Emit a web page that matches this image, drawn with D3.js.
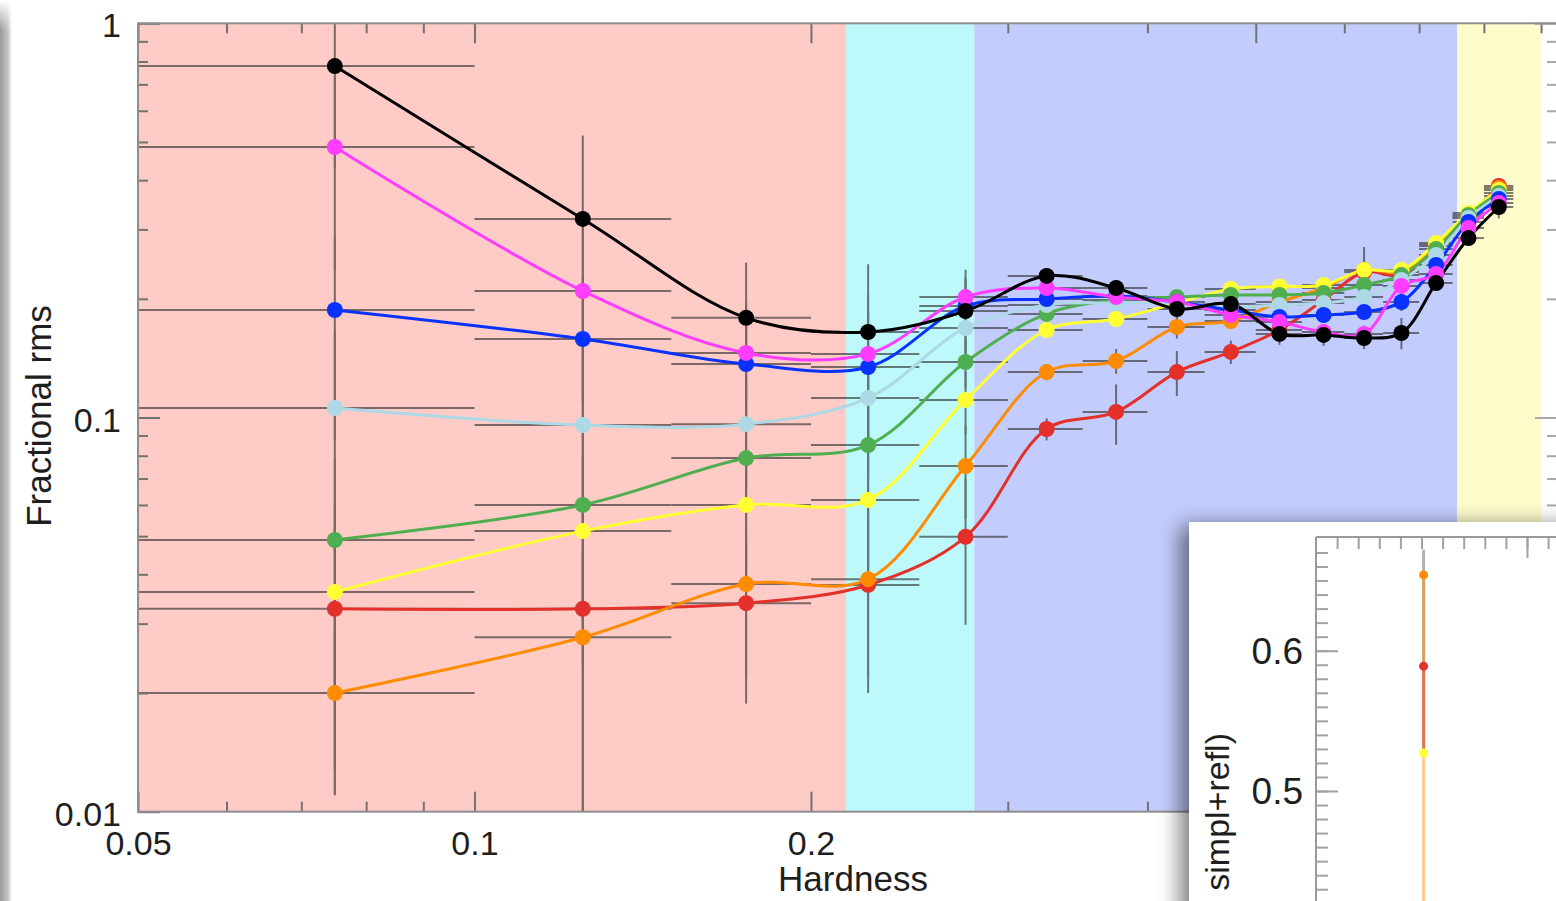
<!DOCTYPE html>
<html lang="en">
<head>
<meta charset="UTF-8">
<title>Fractional rms vs Hardness</title>
<script src="https://d3js.org/d3.v7.min.js"></script>
<style>
    body { margin: 0; background: #fff; }
    svg { display: block; font-family: "Liberation Sans", Arial, Helvetica, sans-serif; }
</style>
</head>
<body>
<div id="chart"></div>
<script>
const width = 1556, height = 901;

// hardness bins: centre and edges
const hardness = [0.075, 0.125, 0.175, 0.225, 0.275, 0.325, 0.375, 0.425, 0.475, 0.525, 0.575, 0.625, 0.675, 0.725, 0.775, 0.825];
const binLo    = [0.05, 0.10, 0.15, 0.20, 0.25, 0.30, 0.35, 0.40, 0.45, 0.50, 0.55, 0.60, 0.65, 0.70, 0.75, 0.80];
const binHi    = [0.10, 0.15, 0.20, 0.25, 0.30, 0.35, 0.40, 0.45, 0.50, 0.55, 0.60, 0.65, 0.70, 0.75, 0.80, 0.85];

// fractional rms per energy band
const rmsRed       = [0.0327, 0.0327, 0.0338, 0.0376, 0.0498, 0.0935, 0.1033, 0.1304, 0.1467, 0.1667, 0.1986, 0.2338, 0.2298, 0.2723, 0.3226, 0.3867];
const rmsOrange    = [0.0200, 0.0277, 0.0378, 0.0389, 0.0753, 0.1304, 0.1391, 0.1697, 0.1757, 0.1963, 0.2131, 0.2366, 0.2338, 0.2740, 0.3245, 0.3822];
const rmsYellow    = [0.0361, 0.0515, 0.0600, 0.0618, 0.1108, 0.1667, 0.1778, 0.1952, 0.2118, 0.2150, 0.2169, 0.2366, 0.2366, 0.2771, 0.3303, 0.3777];
const rmsGreen     = [0.0489, 0.0600, 0.0789, 0.0851, 0.1383, 0.1831, 0.1986, 0.2021, 0.2045, 0.2045, 0.2069, 0.2169, 0.2298, 0.2676, 0.3264, 0.3711];
const rmsLightblue = [0.1057, 0.0957, 0.0962, 0.1121, 0.1687, 0.1929, 0.1952, 0.1952, 0.1907, 0.1929, 0.1952, 0.2021, 0.2233, 0.2584, 0.3207, 0.3646];
const rmsBlue      = [0.1874, 0.1582, 0.1367, 0.1343, 0.1918, 0.1998, 0.2033, 0.1963, 0.1874, 0.1799, 0.1820, 0.1852, 0.1963, 0.2437, 0.3133, 0.3583];
const rmsMagenta   = [0.4856, 0.2094, 0.1458, 0.1450, 0.2021, 0.2131, 0.2021, 0.1963, 0.1820, 0.1747, 0.1648, 0.1629, 0.2157, 0.2312, 0.3025, 0.3500];
const rmsBlack     = [0.7790, 0.3190, 0.1790, 0.1648, 0.1863, 0.2286, 0.2131, 0.1885, 0.1940, 0.1629, 0.1620, 0.1591, 0.1638, 0.2194, 0.2852, 0.3420];

// 1-sigma errors
const errRed       = [0.020, 0.025, 0.015, 0.0176, 0.020, 0.006, 0.018, 0.017, 0.010, 0.010, 0.010, 0.010, 0.010, 0.010, 0.015, 0.015];
const errOrange    = [0.009, 0.018, 0.016, 0.017, 0.020, 0.006, 0.010, 0.011, 0.008, 0.008, 0.008, 0.010, 0.010, 0.010, 0.015, 0.015];
const errYellow    = [0.025, 0.028, 0.020, 0.022, 0.020, 0.007, 0.007, 0.007, 0.007, 0.007, 0.007, 0.034, 0.010, 0.010, 0.015, 0.015];
const errGreen     = [0.030, 0.030, 0.025, 0.030, 0.020, 0.007, 0.007, 0.007, 0.007, 0.007, 0.007, 0.008, 0.010, 0.010, 0.015, 0.015];
const errLightblue = [0.060, 0.045, 0.030, 0.040, 0.025, 0.008, 0.008, 0.008, 0.008, 0.008, 0.008, 0.008, 0.010, 0.010, 0.015, 0.015];
const errBlue      = [0.100, 0.070, 0.040, 0.050, 0.030, 0.008, 0.008, 0.008, 0.008, 0.008, 0.008, 0.008, 0.010, 0.010, 0.015, 0.015];
const errMagenta   = [0.250, 0.100, 0.050, 0.060, 0.035, 0.008, 0.008, 0.008, 0.008, 0.008, 0.008, 0.008, 0.010, 0.010, 0.015, 0.015];
const errBlack     = [0.350, 0.200, 0.068, 0.080, 0.040, 0.010, 0.010, 0.010, 0.010, 0.010, 0.010, 0.010, 0.015, 0.009, 0.009, 0.022];

// spectral states shaded in the background
const stateEdges  = [0.05, 0.215, 0.28, 0.757, 0.9];
const stateColors = ['#fecbc7', '#bdf9fb', '#c3cdfd', '#fefccb'];

// axis ticks
const xMajor = [0.05, 0.1, 0.2, 0.5];
const xMinor = [0.06, 0.07, 0.08, 0.09, 0.3, 0.4, 0.6, 0.7, 0.8, 0.9];
const yMajor = [0.01, 0.1, 1];
const yMinor = [0.02, 0.03, 0.04, 0.05, 0.06, 0.07, 0.08, 0.09, 0.2, 0.3, 0.4, 0.5, 0.6, 0.7, 0.8, 0.9];

// inset (partly visible panel)
const insetHard   = [0.051];
const insetOrange = [0.654];
const insetRed    = [0.589];
const insetYellow = [0.527];
const insetErrOrange = [0.018];
const insetYMajor = [0.5, 0.6];

const series = [
    { color: '#e4302a', values: rmsRed, err: errRed },
    { color: '#ff8c00', values: rmsOrange, err: errOrange },
    { color: '#ffff33', values: rmsYellow, err: errYellow },
    { color: '#4fae4f', values: rmsGreen, err: errGreen },
    { color: '#add8e6', values: rmsLightblue, err: errLightblue },
    { color: '#0a32ff', values: rmsBlue, err: errBlue },
    { color: '#ff3cff', values: rmsMagenta, err: errMagenta },
    { color: '#000000', values: rmsBlack, err: errBlack }
];

const x = d3.scaleLog().domain([0.05, 0.93]).range([138, 1557]);
const y = d3.scaleLog().domain([0.01, 1]).range([811.7, 23.3]);

const svg = d3.select('#chart').append('svg')
    .attr('width', width)
    .attr('height', height);

const defs = svg.append('defs');
defs.append('clipPath').attr('id', 'plotClip')
    .append('rect')
    .attr('x', x.range()[0]).attr('y', y.range()[1])
    .attr('width', x.range()[1] - x.range()[0])
    .attr('height', y.range()[0] - y.range()[1]);

const edge = defs.append('linearGradient').attr('id', 'edgeShade');
edge.append('stop').attr('offset', 0).attr('stop-color', '#9a9a9a');
edge.append('stop').attr('offset', 0.65).attr('stop-color', '#c4c4c4');
edge.append('stop').attr('offset', 1).attr('stop-color', '#ffffff');
const topFade = defs.append('linearGradient').attr('id', 'topFade')
    .attr('x1', 0).attr('x2', 0).attr('y1', 0).attr('y2', 1);
topFade.append('stop').attr('offset', 0).attr('stop-color', '#fff').attr('stop-opacity', 1);
topFade.append('stop').attr('offset', 1).attr('stop-color', '#fff').attr('stop-opacity', 0);

const shadow = defs.append('filter').attr('id', 'insetShadow')
    .attr('x', '-30%').attr('y', '-30%').attr('width', '160%').attr('height', '160%');
shadow.append('feDropShadow')
    .attr('dx', -8).attr('dy', 4).attr('stdDeviation', 11)
    .attr('flood-color', '#000').attr('flood-opacity', 0.55);

// background states
const plot = svg.append('g').attr('clip-path', 'url(#plotClip)');
plot.selectAll('rect.state')
    .data(stateColors)
    .enter()
    .append('rect')
    .attr('class', 'state')
    .attr('x', (d, i) => x(stateEdges[i]))
    .attr('width', (d, i) => x(stateEdges[i + 1]) - x(stateEdges[i]))
    .attr('y', y.range()[1])
    .attr('height', y.range()[0] - y.range()[1])
    .attr('fill', d => d);

// error bars
const bars = plot.append('g').attr('opacity', 0.62)
    .attr('stroke', '#2c2c2c').attr('stroke-width', 2);
series.forEach(s => {
    s.values.forEach((v, i) => {
        bars.append('line')
            .attr('x1', x(hardness[i])).attr('x2', x(hardness[i]))
            .attr('y1', y(v + s.err[i]))
            .attr('y2', y(Math.max(v - s.err[i], 0.005)));
        bars.append('line')
            .attr('x1', x(binLo[i])).attr('x2', x(binHi[i]))
            .attr('y1', y(v)).attr('y2', y(v));
    });
});

// curves
const line = d3.line()
    .x((d, i) => x(hardness[i]))
    .y(d => y(d))
    .curve(d3.curveCatmullRom.alpha(0.5));

plot.selectAll('path.series')
    .data(series)
    .enter()
    .append('path')
    .attr('class', 'series')
    .attr('d', d => line(d.values))
    .attr('fill', 'none')
    .attr('stroke', d => d.color)
    .attr('stroke-width', 3);

series.forEach(s => {
    plot.append('g').selectAll('circle')
        .data(s.values)
        .enter()
        .append('circle')
        .attr('cx', (d, i) => x(hardness[i]))
        .attr('cy', d => y(d))
        .attr('r', 8)
        .attr('fill', s.color);
});

// axes
function styleAxis(g, size, color) {
    g.select('.domain').remove();
    g.attr('font-family', null).attr('font-size', size);
    g.selectAll('.tick line').attr('stroke', color).attr('stroke-width', 2);
    g.selectAll('.tick text').attr('fill', '#1e1e1e');
}
const tickCol = '#727272';
const fmt = d => String(d);

svg.append('g').attr('transform', `translate(0,${y.range()[0]})`)
    .call(d3.axisBottom(x).tickValues(xMajor).tickSizeInner(-20).tickSizeOuter(0).tickPadding(19).tickFormat(fmt))
    .call(g => styleAxis(g, 34, tickCol));
svg.append('g').attr('transform', `translate(0,${y.range()[0]})`)
    .call(d3.axisBottom(x).tickValues(xMinor).tickSizeInner(-10).tickSizeOuter(0).tickFormat(''))
    .call(g => styleAxis(g, 34, tickCol));
svg.append('g').attr('transform', `translate(0,${y.range()[1]})`)
    .call(d3.axisTop(x).tickValues(xMajor).tickSizeInner(-20).tickSizeOuter(0).tickFormat(''))
    .call(g => styleAxis(g, 34, tickCol));
svg.append('g').attr('transform', `translate(0,${y.range()[1]})`)
    .call(d3.axisTop(x).tickValues(xMinor).tickSizeInner(-10).tickSizeOuter(0).tickFormat(''))
    .call(g => styleAxis(g, 34, tickCol));

svg.append('g').attr('transform', `translate(${x.range()[0]},0)`)
    .call(d3.axisLeft(y).tickValues(yMajor).tickSizeInner(-22).tickSizeOuter(0).tickPadding(17).tickFormat(fmt))
    .call(g => styleAxis(g, 34, tickCol))
    .call(g => g.selectAll('.tick text').attr('dy', '0.4em'));
svg.append('g').attr('transform', `translate(${x.range()[0]},0)`)
    .call(d3.axisLeft(y).tickValues(yMinor).tickSizeInner(-10).tickSizeOuter(0).tickFormat(''))
    .call(g => styleAxis(g, 34, tickCol));
svg.append('g').attr('transform', `translate(${x.range()[1]},0)`)
    .call(d3.axisRight(y).tickValues(yMajor).tickSizeInner(-22).tickSizeOuter(0).tickFormat(''))
    .call(g => styleAxis(g, 34, '#a8a8a8'));
svg.append('g').attr('transform', `translate(${x.range()[1]},0)`)
    .call(d3.axisRight(y).tickValues(yMinor).tickSizeInner(-10).tickSizeOuter(0).tickFormat(''))
    .call(g => styleAxis(g, 34, '#a8a8a8'));

// frame
svg.append('rect')
    .attr('x', x.range()[0]).attr('y', y.range()[1])
    .attr('width', x.range()[1] - x.range()[0])
    .attr('height', y.range()[0] - y.range()[1])
    .attr('fill', 'none').attr('stroke', '#8e8e8e').attr('stroke-width', 2);

svg.append('text')
    .attr('x', 853).attr('y', 891)
    .attr('text-anchor', 'middle')
    .attr('font-size', 35).attr('fill', '#1e1e1e')
    .text('Hardness');
svg.append('text')
    .attr('transform', 'translate(51,416) rotate(-90)')
    .attr('text-anchor', 'middle')
    .attr('font-size', 35).attr('fill', '#1e1e1e')
    .text('Fractional rms');

// inset panel
const ix = d3.scaleLinear().domain([0, 0.1]).range([1316, 1527]);
const iy = d3.scaleLinear().domain([0.5, 0.6]).range([791, 650.7]);

svg.append('rect')
    .attr('x', 1189).attr('y', 522)
    .attr('width', 420).attr('height', 420)
    .attr('fill', '#fff')
    .attr('filter', 'url(#insetShadow)');

const inset = svg.append('g');
const insetTickCol = '#a2a2a2';
inset.append('g').attr('transform', 'translate(0,537)')
    .call(d3.axisTop(ix).tickValues(d3.range(1, 12).map(d => d / 100)).tickSizeInner(-12).tickSizeOuter(0).tickFormat(''))
    .call(g => styleAxis(g, 37, insetTickCol));
inset.append('g').attr('transform', 'translate(0,537)')
    .call(d3.axisTop(ix).tickValues([0.1]).tickSizeInner(-21).tickSizeOuter(0).tickFormat(''))
    .call(g => styleAxis(g, 37, insetTickCol));
inset.append('g').attr('transform', 'translate(1316,0)')
    .call(d3.axisLeft(iy).tickValues(d3.range(40, 68).map(d => d / 100)).tickSizeInner(-12).tickSizeOuter(0).tickFormat(''))
    .call(g => styleAxis(g, 37, insetTickCol));
inset.append('g').attr('transform', 'translate(1316,0)')
    .call(d3.axisLeft(iy).tickValues(insetYMajor).tickSizeInner(-22).tickSizeOuter(0).tickPadding(13).tickFormat(d3.format('.1f')))
    .call(g => styleAxis(g, 37, insetTickCol))
    .call(g => g.selectAll('.tick text').attr('dy', '0.34em'));

inset.append('line')
    .attr('x1', 1316).attr('x2', 1316).attr('y1', 537).attr('y2', height)
    .attr('stroke', '#9a9a9a').attr('stroke-width', 2);
inset.append('line')
    .attr('x1', 1316).attr('x2', width).attr('y1', 537).attr('y2', 537)
    .attr('stroke', '#9a9a9a').attr('stroke-width', 2);

inset.append('text')
    .attr('transform', 'translate(1229,733) rotate(-90)')
    .attr('text-anchor', 'end')
    .attr('font-size', 34).attr('fill', '#1e1e1e')
    .text('simpl+refl)');

// inset marks
insetHard.forEach((h, i) => {
    inset.append('line')
        .attr('x1', ix(h)).attr('x2', ix(h))
        .attr('y1', iy(insetOrange[i] + insetErrOrange[i])).attr('y2', iy(insetYellow[i]))
        .attr('stroke', '#555').attr('stroke-opacity', 0.45).attr('stroke-width', 3);
    inset.append('line')
        .attr('x1', ix(h)).attr('x2', ix(h))
        .attr('y1', iy(insetOrange[i])).attr('y2', height)
        .attr('stroke', '#ff8c00').attr('stroke-opacity', 0.45).attr('stroke-width', 3);
    inset.append('line')
        .attr('x1', ix(h)).attr('x2', ix(h))
        .attr('y1', iy(insetRed[i])).attr('y2', iy(insetYellow[i]))
        .attr('stroke', '#e4302a').attr('stroke-opacity', 0.35).attr('stroke-width', 3);
    [[insetOrange, '#ff8c00'], [insetRed, '#e4302a'], [insetYellow, '#ffff33']].forEach(([arr, col]) => {
        inset.append('circle')
            .attr('cx', ix(h)).attr('cy', iy(arr[i]))
            .attr('r', 4.5).attr('fill', col);
    });
});

// page edge shadow on the left
svg.append('rect').attr('x', 0).attr('y', 0).attr('width', 12).attr('height', height)
    .attr('fill', 'url(#edgeShade)');
svg.append('rect').attr('x', 0).attr('y', 0).attr('width', 14).attr('height', 30)
    .attr('fill', 'url(#topFade)');
</script>
</body>
</html>
